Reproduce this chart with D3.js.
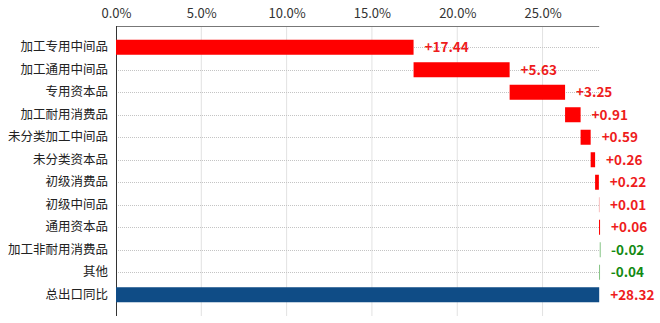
<!DOCTYPE html>
<html><head><meta charset="utf-8">
<script src="https://cdn.jsdelivr.net/npm/d3@7"></script>
<style>body{margin:0;background:#fff;}svg{display:block;font-family:"Noto Sans CJK SC","Noto Sans",sans-serif;}</style>
</head><body><svg id="c" width="660" height="323"></svg>
<script>
const categories = ["加工专用中间品","加工通用中间品","专用资本品","加工耐用消费品","未分类加工中间品","未分类资本品","初级消费品","初级中间品","通用资本品","加工非耐用消费品","其他","总出口同比"];
const values = [17.44,5.63,3.25,0.91,0.59,0.26,0.22,0.01,0.06,-0.02,-0.04,28.32];
const valueLabels = ["+17.44","+5.63","+3.25","+0.91","+0.59","+0.26","+0.22","+0.01","+0.06","-0.02","-0.04","+28.32"];
const xTicks = [0,5,10,15,20,25];

const svg = d3.select("#c");
const mLeft = 116, mRight = 599.2, mTop = 26, mBottom = 316;
const x = d3.scaleLinear().domain([0, 28.32]).range([mLeft, mRight]);
const y = d3.scaleBand().domain(categories).range([36, 306]).paddingInner(0.333).paddingOuter(0.1665);

// waterfall positions
let cum = 0;
const bars = categories.map((c, i) => {
  const v = values[i];
  const isTotal = i === categories.length - 1;
  let x0, x1;
  if (isTotal) { x0 = 0; x1 = v; }
  else { x0 = cum; x1 = cum + v; cum += v; }
  return {c, v, x0: Math.min(x0, x1), x1: Math.max(x0, x1), end: Math.max(x0,x1), isTotal, label: valueLabels[i]};
});

// vertical grid
svg.append("g").selectAll("line").data(xTicks.slice(1)).join("line")
  .attr("x1", d => x(d)).attr("x2", d => x(d)).attr("y1", mTop).attr("y2", mBottom)
  .attr("stroke", "#e2e2e2").attr("stroke-width", 1);
// horizontal dotted grid
svg.append("g").selectAll("line").data(categories).join("line")
  .attr("x1", mLeft).attr("x2", mRight)
  .attr("y1", d => Math.round(y(d) + y.bandwidth()/2) + 0.5).attr("y2", d => Math.round(y(d) + y.bandwidth()/2) + 0.5)
  .attr("stroke", "#c4c4c4").attr("stroke-width", 1).attr("stroke-dasharray", "1,1");

// top axis
const xAxis = d3.axisTop(x).tickValues(xTicks).tickFormat(d => d.toFixed(1) + "%").tickSize(0).tickPadding(8);
const gx = svg.append("g").attr("transform", `translate(0,${mTop})`).call(xAxis);
gx.select(".domain").attr("stroke", "#777").attr("d", `M${mLeft},0.5H${mRight}`);
gx.selectAll("text").attr("font-size", 13).attr("fill", "#333").attr("font-family", '"Noto Sans CJK SC","Noto Sans",sans-serif');

// left axis
const yAxis = d3.axisLeft(y).tickSize(0).tickPadding(8);
const gy = svg.append("g").attr("transform", `translate(${mLeft},0)`).call(yAxis);
gy.select(".domain").attr("stroke", "#333").attr("d", `M0.5,${mTop}V${mBottom}`);
gy.selectAll("text").attr("font-size", 12.5).attr("fill", "#222").attr("font-family", '"Noto Sans CJK SC","Noto Sans",sans-serif');

// bars
svg.append("g").selectAll("rect").data(bars).join("rect")
  .attr("x", d => x(d.x0))
  .attr("width", d => Math.max(1, x(d.x1) - x(d.x0)))
  .attr("y", d => y(d.c)).attr("height", y.bandwidth())
  .attr("fill", d => d.isTotal ? "#0f4c86" : (d.v < 0 ? "#86c486" : (d.v < 0.03 ? "#f8c0c0" : "#ff0000")));

// value labels
svg.append("g").selectAll("text").data(bars).join("text")
  .attr("x", d => x(d.end) + 11)
  .attr("y", d => y(d.c) + y.bandwidth()/2)
  .attr("dy", "0.36em")
  .attr("font-size", 13.5).attr("font-weight", "bold")
  .attr("fill", d => d.v < 0 ? "#138a13" : "#ee1c1c")
  .text(d => d.label);
</script></body></html>
